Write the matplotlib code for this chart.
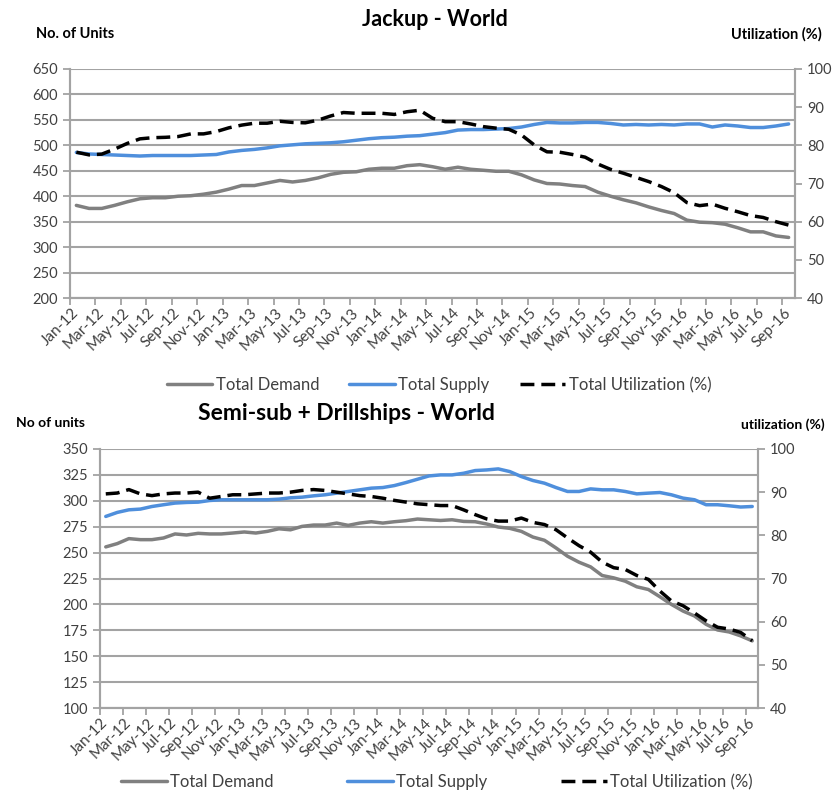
import numpy as np
import matplotlib
matplotlib.use("Agg")
import matplotlib.pyplot as plt

plt.rcParams['font.family'] = ['Lato', 'DejaVu Sans']

# months Jan-12 .. Sep-16
months = ["Jan", "Feb", "Mar", "Apr", "May", "Jun", "Jul", "Aug", "Sep", "Oct", "Nov", "Dec"]
dates = [f"{months[m]}-{y}" for y in range(12, 17) for m in range(12)][:57]

# Jackup - World
jack_demand = [382, 376, 376, 382, 389, 395, 397, 397, 400, 401, 404, 408, 414, 421, 421,
               426, 431, 428, 431, 436, 443, 447, 448, 453, 455, 455, 460, 462, 458,
               453, 457, 453, 451, 449, 449, 442, 432, 425, 424, 421, 419, 408, 400,
               393, 387, 379, 372, 366, 353, 349, 348, 345, 338, 330, 330, 322, 319]
jack_supply = [486, 483, 482, 481, 480, 479, 480, 480, 480, 480, 481, 482, 487, 490, 492,
               495, 499, 501, 503, 504, 505, 507, 510, 513, 515, 516, 518, 519, 522,
               525, 530, 531, 531, 532, 533, 536, 541, 545, 544, 544, 545, 545, 543,
               540, 541, 540, 541, 540, 542, 542, 536, 540, 538, 535, 535, 538, 542]
jack_util = [78.2, 77.5, 77.7, 79.0, 80.5, 81.7, 82.0, 82.1, 82.3, 83.0, 83.0, 83.6, 84.6,
             85.3, 85.8, 85.8, 86.3, 86.0, 85.9, 86.6, 87.7, 88.6, 88.4, 88.4, 88.4, 88.1,
             88.8, 89.2, 87.1, 86.2, 86.2, 85.6, 84.9, 84.5, 84.2, 82.7, 80.1, 78.3, 78.2,
             77.6, 76.9, 75.1, 73.7, 72.7, 71.6, 70.5, 69.2, 67.6, 65.0, 64.2, 64.6, 63.5,
             62.6, 61.6, 61.1, 60.0, 59.1]

# Semi-sub + Drillships - World
semi_demand = [255.5, 258.7, 263.5, 262.5, 262.5, 264.1, 268, 267, 268.6, 268, 268, 268.9,
               269.9, 268.9, 270.5, 273, 272, 275.3, 276.6, 276.6, 278.5, 276.3, 278.5,
               279.8, 278.5, 279.8, 280.8, 282.4, 281.7, 281, 281.7, 280.1, 279.8, 277.6,
               274.7, 273.4, 270.5, 265, 261.9, 254.5, 246.5, 240.7, 236.2, 227.9, 225.6,
               222.4, 217, 214.4, 207.4, 200, 193.6, 188.8, 180.8, 175.3, 173.4, 169.6, 164.8]
semi_supply = [284.9, 288.8, 291.3, 292, 294.5, 296.2, 297.8, 298.4, 298.7, 300.3, 301, 301,
               301, 301, 301, 301.6, 302.9, 303.5, 304.8, 305.8, 307.4, 309, 310.6, 312.2,
               312.8, 314.7, 317.6, 320.8, 324, 325, 325, 326.6, 329.2, 329.8, 330.8, 328.2,
               323.4, 319.6, 317, 312.8, 309, 309, 311.5, 310.6, 310.6, 309, 306.7, 307.4,
               308, 305.8, 302.6, 301, 296.2, 296.2, 295.2, 294, 294.5]
semi_util = [89.6, 89.8, 90.6, 89.6, 89.2, 89.6, 89.8, 89.8, 90.0, 88.6, 89.0, 89.4, 89.4,
             89.6, 89.8, 89.8, 90.0, 90.4, 90.6, 90.4, 90.0, 89.6, 89.2, 89.0, 88.6, 88.1,
             87.7, 87.3, 87.1, 86.9, 86.9, 85.9, 84.8, 83.8, 83.3, 83.3, 84.0, 83.0, 82.5,
             81.3, 79.4, 77.6, 76.1, 73.8, 72.5, 72.1, 70.7, 69.8, 67.1, 64.8, 63.7, 62.0,
             60.2, 58.7, 58.3, 57.5, 55.6]

C_DEM = '#808080'
C_SUP = '#4f8fdc'
C_GRID = '#a3a3a3'
C_TXT = '#404040'

x = np.arange(len(dates))

fig = plt.figure(figsize=(8.38, 7.91), dpi=100)


def panel(rect, demand, supply, util, ylim, yticks, legend_y, legend_x, colspace):
    ax = fig.add_axes(rect)
    ax2 = ax.twinx()
    l1, = ax.plot(x, demand, color=C_DEM, lw=2.5, solid_capstyle='round')
    l2, = ax.plot(x, supply, color=C_SUP, lw=2.5, solid_capstyle='round')
    l3, = ax2.plot(x, util, color='black', lw=2.5, dashes=(4, 2))
    ax.set_xlim(-0.5, len(x) - 0.5)
    ax.set_ylim(*ylim)
    ax.set_yticks(yticks)
    ax2.set_ylim(40, 100)
    ax2.set_yticks(range(40, 101, 10))
    ax.yaxis.grid(True, color=C_GRID, lw=1.5)
    ax.set_axisbelow(True)
    # ticks between categories, labels every second month
    ax.set_xticks(np.arange(-0.5, len(x) - 1, 2))
    ax.set_xticklabels([])
    ax.set_xticks(x[::2], labels=dates[::2], minor=True)
    ax.tick_params(axis='x', which='major', length=5, width=1.3, color=C_GRID)
    ax.tick_params(axis='x', which='minor', length=0, pad=9, labelsize=11, labelcolor=C_TXT)
    for t in ax.get_xticklabels(minor=True):
        t.set_rotation(45)
        t.set_ha('right')
        t.set_va('center')
        t.set_rotation_mode('anchor')
    ax.tick_params(axis='y', length=5, width=1.3, color=C_GRID, labelsize=10.5, labelcolor=C_TXT)
    ax2.tick_params(axis='y', length=5, width=1.3, color=C_GRID, labelsize=10.5, labelcolor=C_TXT)
    for a in (ax, ax2):
        a.spines['top'].set_visible(False)
        for s in ('left', 'right', 'bottom'):
            a.spines[s].set_color(C_GRID)
            a.spines[s].set_linewidth(1.5)
    fig.legend([l1, l2, l3], ['Total Demand', 'Total Supply', 'Total Utilization (%)'],
               loc='center', bbox_to_anchor=(legend_x, legend_y), ncol=3, frameon=False,
               handlelength=2.75, columnspacing=colspace, handletextpad=0.2,
               prop={'size': 12}, labelcolor=C_TXT)
    return ax, ax2


W, H = 838, 791
panel([70 / W, 1 - 298 / H, 725 / W, 229 / H], jack_demand, jack_supply, jack_util,
      (200, 650), range(200, 651, 50), 1 - 385 / H, 439 / W, 1.8)
panel([100 / W, 1 - 708 / H, 658 / W, 259 / H], semi_demand, semi_supply, semi_util,
      (100, 350), range(100, 351, 25), 1 - 782 / H, 437 / W, 4.4)

fig.text(435 / W, 1 - 19 / H, 'Jackup - World', ha='center', va='center',
         fontsize=15.5, fontweight='bold')
fig.text(36 / W, 1 - 34 / H, 'No. of Units', ha='left', va='center', fontsize=10.5, fontweight='bold')
fig.text(822 / W, 1 - 34 / H, 'Utilization (%)', ha='right', va='center', fontsize=10.5,
         fontweight='bold')
fig.text(346 / W, 1 - 414 / H, 'Semi-sub + Drillships - World', ha='center', va='center',
         fontsize=16.5, fontweight='bold')
fig.text(16 / W, 1 - 423 / H, 'No of units', ha='left', va='center', fontsize=10,
         fontweight='bold')
fig.text(825 / W, 1 - 425 / H, 'utilization (%)', ha='right', va='center', fontsize=10,
         fontweight='bold')

fig.savefig('out.png', dpi=100)
